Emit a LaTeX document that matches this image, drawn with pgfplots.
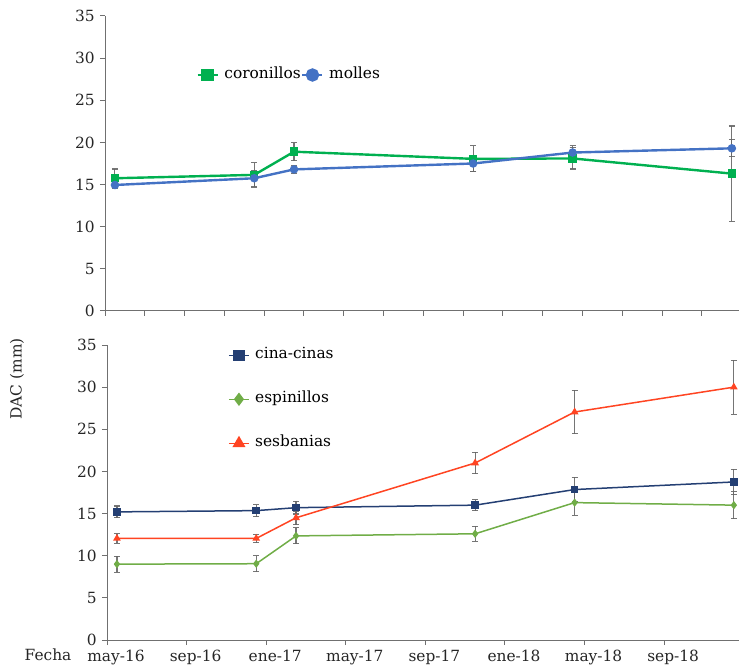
\documentclass[border=0pt]{standalone}
\usepackage{pgfplots}
\pgfplotsset{compat=1.18}
\usepackage{fontspec}
\setmainfont{DejaVu Serif}
\definecolor{cgreen}{HTML}{00B050}
\definecolor{cblue}{HTML}{4472C4}
\definecolor{cnavy}{HTML}{243F73}
\definecolor{clgreen}{HTML}{70AD47}
\definecolor{cred}{HTML}{FF4422}
\definecolor{ebar}{HTML}{666666}
\definecolor{axgray}{HTML}{707070}
\pgfplotsset{
  base/.style={
    scale only axis, anchor=south west,
    ymin=0, ymax=35, ytick={0,5,...,35},
    axis x line=bottom, axis y line=left,
    axis line style={-, draw=axgray, line width=1pt},
    tick style={draw=axgray, line width=1pt},
    tick align=outside, major tick length=5pt,
    /pgf/number format/assume math mode=true,
    ticklabel style={text=black!85},
    clip=false,
    legend cell align=left,
  },
  ebars/.style={error bars/.cd, y dir=both, y explicit,
    error bar style={color=ebar, line width=1.1pt, opacity=0.9},
    error mark options={rotate=90, mark size=3pt, color=ebar, line width=1.1pt}},
}
\begin{document}
\fontsize{15.4}{18}\selectfont
\begin{tikzpicture}[x=1pt,y=1pt]
\useasboundingbox (0,0) rectangle (739,667);
% top panel
\begin{axis}[base, at={(105pt,356pt)}, width=634pt, height=295pt,
  xmin=0, xmax=31.86, xtick={0,2,...,30}, xticklabels=\empty,
  legend columns=-1,
  legend image code/.code={\draw[mark repeat=2,mark phase=2,#1] plot coordinates {(0pt,0pt) (10pt,0pt) (20pt,0pt)};},
  legend style={draw=none, fill=none, inner sep=0pt, at={(0.1440,0.800)}, anchor=west,
    nodes={inner sep=0.5pt, text height=11pt, text depth=3pt},
    /tikz/every odd column/.append style={column sep=5pt},
    /tikz/every even column/.append style={column sep=0pt}},
]
\addplot[color=cgreen, line width=2.4pt, mark=square*, mark size=3pt, mark options={fill=cgreen}, forget plot, ebars]
 table[x=x, y=y, y error=e] {
x y e
0.5 15.75 1.1
7.5 16.15 1.45
9.5 18.9 1.05
18.5 18.05 1.55
23.5 18.1 1.25
31.5 16.3 5.65
};
\addplot[color=cblue, line width=2.4pt, mark=*, mark size=3pt, mark options={fill=cblue}, forget plot, ebars]
 table[x=x, y=y, y error=e] {
x y e
0.5 14.95 0.4
7.5 15.75 0.95
9.5 16.8 0.5
18.5 17.5 0.9
23.5 18.8 0.8
31.5 19.3 1.0
};
\addlegendimage{color=cgreen, line width=2.4pt, mark=square*, mark size=5pt, mark options={fill=cgreen}}
\addlegendentry{coronillos}
\addlegendimage{color=cblue, line width=2.4pt, mark=*, mark size=5.5pt, mark options={fill=cblue}}
\addlegendentry{molles}
\end{axis}
% bottom panel
\begin{axis}[base, at={(107pt,27pt)}, width=632pt, height=295pt,
  xmin=0, xmax=31.76, xtick={0,4,...,28},
  xticklabels={may-16,sep-16,ene-17,may-17,sep-17,ene-18,may-18,sep-18},
  xticklabel style={xshift=9pt},
  legend image code/.code={\draw[mark repeat=2,mark phase=2,#1] plot coordinates {(0pt,0pt) (10pt,0pt) (20pt,0pt)};},
  legend style={draw=none, fill=none, inner sep=0pt, at={(0.1915,0.993)}, anchor=north west,
    nodes={inner sep=0.5pt, text height=11pt, text depth=4pt},
    row sep=28pt,
    /tikz/every odd column/.append style={column sep=5pt}},
]
\addplot[color=cnavy, line width=1.5pt, mark=square*, mark size=3pt, mark options={fill=cnavy}, forget plot, ebars]
 table[x=x, y=y, y error=e] {
x y e
0.5 15.2 0.7
7.5 15.35 0.7
9.5 15.7 0.75
18.5 16.0 0.65
23.5 17.85 1.45
31.5 18.75 1.5
};
\addplot[color=clgreen, line width=1.5pt, mark=diamond*, mark size=3pt, mark options={fill=clgreen}, forget plot, ebars]
 table[x=x, y=y, y error=e] {
x y e
0.5 9.0 0.95
7.5 9.05 0.95
9.5 12.35 0.95
18.5 12.6 0.9
23.5 16.3 1.5
31.5 16.0 1.6
};
\addplot[color=cred, line width=1.5pt, mark=triangle*, mark size=3pt, mark options={fill=cred}, forget plot, ebars]
 table[x=x, y=y, y error=e] {
x y e
0.5 12.05 0.55
7.5 12.05 0.5
9.5 14.5 0.8
18.5 21.0 1.25
23.5 27.05 2.6
31.5 30.0 3.2
};
\addlegendimage{color=cnavy, line width=1.5pt, mark=square*, mark size=5pt, mark options={fill=cnavy}}
\addlegendentry{cina-cinas}
\addlegendimage{color=clgreen, line width=1.5pt, mark=diamond*, mark size=5.5pt, mark options={fill=clgreen}}
\addlegendentry{espinillos}
\addlegendimage{color=cred, line width=1.5pt, mark=triangle*, mark size=6pt, mark options={fill=cred}}
\addlegendentry{sesbanias}
\end{axis}
\node[rotate=90, text=black!85] at (17,288) {DAC (mm)};
\node[text=black!85] at (48,12) {Fecha};
\end{tikzpicture}
\end{document}
